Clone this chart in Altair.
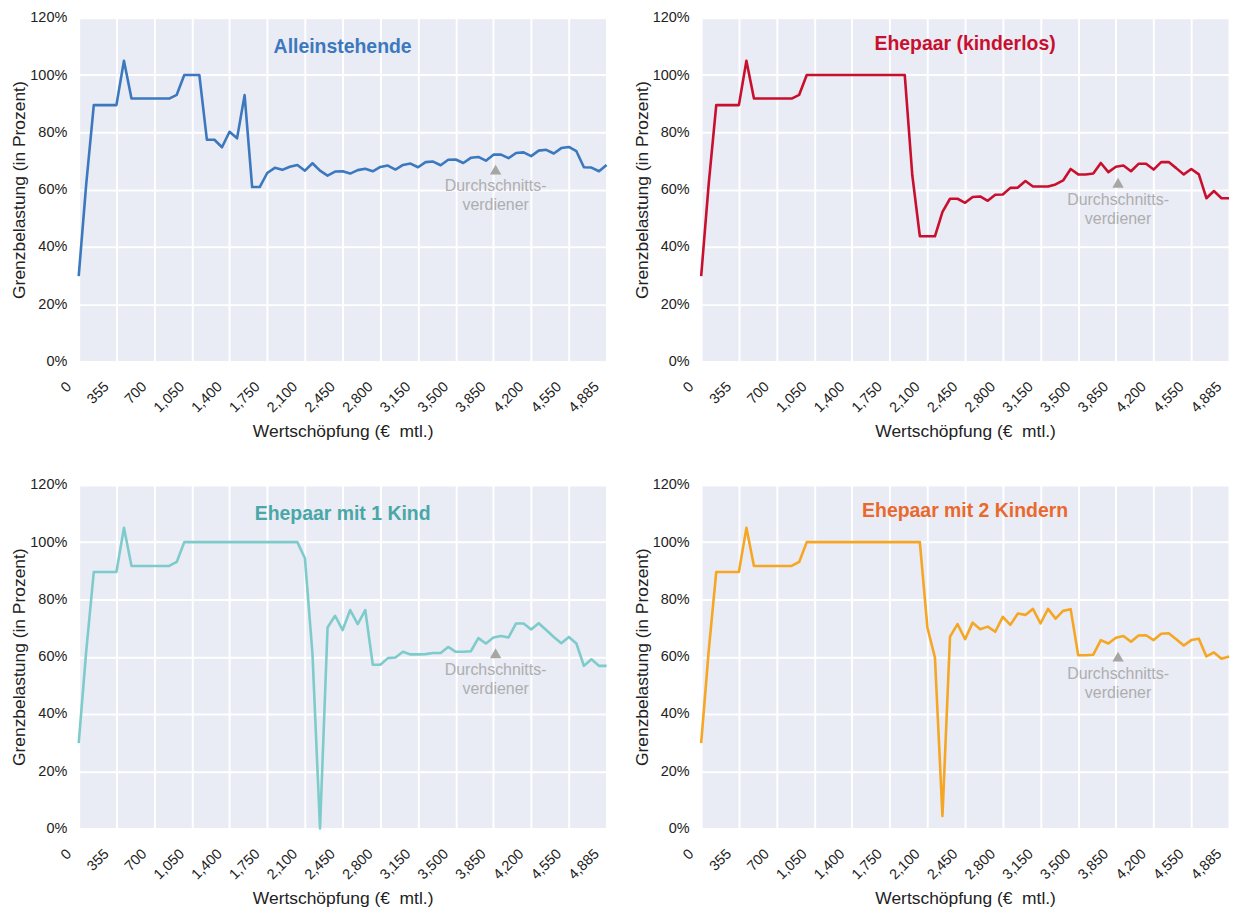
import json
import altair as alt
import pandas as pd

# ---------------- data ----------------
x_step = 70  # € per sample point (axis position)
tick_values = [0, 350, 700, 1050, 1400, 1750, 2100, 2450, 2800, 3150, 3500, 3850, 4200, 4550, 4900]
tick_labels = ["0", "355", "700", "1,050", "1,400", "1,750", "2,100", "2,450", "2,800",
               "3,150", "3,500", "3,850", "4,200", "4,550", "4,885"]
y_ticks = [0, 20, 40, 60, 80, 100, 120]

alleinstehende = [29.8, 62, 89.5, 89.5, 89.5, 89.5, 105, 91.8, 91.8, 91.8, 91.8, 91.8, 91.8, 93.1,
                  100, 100, 100, 77.4, 77.4, 74.8, 80.2, 77.9, 93, 60.9, 60.9, 65.8, 67.6, 66.9,
                  68, 68.6, 66.6, 69.2, 66.6, 64.9, 66.3, 66.4, 65.6, 66.8, 67.3, 66.4, 67.9, 68.4,
                  67, 68.6, 69.1, 67.8, 69.6, 69.8, 68.5, 70.4, 70.5, 69.3, 71.1, 71.4, 70.1, 72.2,
                  72.2, 71, 72.8, 73, 71.7, 73.6, 73.9, 72.6, 74.5, 74.9, 73.4, 67.8, 67.7, 66.4, 68.6]

kinderlos = [29.8, 62, 89.5, 89.5, 89.5, 89.5, 105, 91.8, 91.8, 91.8, 91.8, 91.8, 91.8, 93.1,
             100, 100, 100, 100, 100, 100, 100, 100, 100, 100, 100, 100, 100, 100, 65, 43.7,
             43.7, 43.7, 52.2, 56.8, 56.8, 55.4, 57.4, 57.6, 56.1, 58.2, 58.3, 60.6, 60.7, 63,
             61.1, 61.1, 61.1, 61.8, 63.2, 67.2, 65.3, 65.3, 65.6, 69.3, 66.1, 68, 68.4, 66.4,
             69, 69, 67, 69.6, 69.6, 67.5, 65.3, 67.2, 65.3, 57, 59.5, 57, 57]

ein_kind = [29.8, 62, 89.6, 89.6, 89.6, 89.6, 105, 91.7, 91.7, 91.7, 91.7, 91.7, 91.7, 93.1,
            100, 100, 100, 100, 100, 100, 100, 100, 100, 100, 100, 100, 100, 100, 100, 100,
            94.4, 61, 0, 70.2, 74.3, 69.3, 76.3, 71.4, 76.3, 57.2, 57.2, 59.5, 59.7, 61.7,
            60.8, 60.8, 60.9, 61.3, 61.3, 63.4, 61.7, 61.7, 61.9, 66.5, 64.6, 66.7, 67.2, 66.7,
            71.6, 71.6, 69.5, 71.7, 69.3, 66.9, 64.7, 66.9, 64.6, 56.8, 59.1, 56.8, 56.8]

zwei_kinder = [29.8, 62, 89.6, 89.6, 89.6, 89.6, 105, 91.7, 91.7, 91.7, 91.7, 91.7, 91.7, 93.1,
               100, 100, 100, 100, 100, 100, 100, 100, 100, 100, 100, 100, 100, 100, 100, 100,
               70.2, 59.7, 4.4, 67, 71.4, 66.1, 71.9, 69.6, 70.5, 68.7, 73.9, 71.1, 75.1, 74.6,
               76.7, 71.6, 76.7, 73.3, 76, 76.6, 60.5, 60.5, 60.7, 65.8, 64.6, 66.6, 67.2, 65.2,
               67.4, 67.5, 65.8, 68, 68.2, 66.1, 63.9, 65.8, 66.3, 60.1, 61.5, 59.3, 60.1]

panel_titles = ["Alleinstehende", "Ehepaar (kinderlos)", "Ehepaar mit 1 Kind", "Ehepaar mit 2 Kindern"]
line_colors = ["#3b78bd", "#c8102e", "#7ecbcb", "#f5a623"]
title_colors = ["#3b78bd", "#c8102e", "#4aa7a7", "#e9692c"]
avg_earner_x = 3870
avg_marker_y = [67, 62.4, 61.2, 60]
avg_label = "Durchschnitts-\nverdiener"

# ---------------- style ----------------
FONT = "Liberation Sans, Arial, sans-serif"
BG = "#e9ebf5"
label_expr_x = json.dumps(tick_labels) + "[round(datum.value / 350)]"
title_offsets = [-57, -54, -57, -54]

x_axis = alt.Axis(values=tick_values, labelExpr=label_expr_x, labelAngle=-45,
                  labelAlign="right", labelBaseline="middle", labelOffset=-10,
                  labelPadding=23, ticks=False, tickSize=0, domain=False,
                  grid=True, gridColor="white", gridWidth=2, labelFont=FONT,
                  labelFontSize=14.5, labelColor="#222", titleFont=FONT,
                  titleFontSize=17.5, titleFontWeight="normal", titleColor="#222",
                  titlePadding=8.5, labelOverlap=False)
y_axis = alt.Axis(values=y_ticks, labelExpr="datum.value + '%'", ticks=False, tickSize=0,
                  domain=False, grid=True, gridColor="white", gridWidth=2,
                  labelFont=FONT, labelFontSize=14.5, labelColor="#222", labelPadding=12,
                  titleFont=FONT, titleFontSize=17.5, titleFontWeight="normal",
                  titleColor="#222", titlePadding=1)


def panel(values, k):
    df = pd.DataFrame({"x": [i * x_step for i in range(len(values))], "y": values})
    ann = pd.DataFrame({"x": [avg_earner_x], "y": [avg_marker_y[k]], "t": [avg_label]})
    xs = alt.Scale(domain=[0, 4900], nice=False, zero=False)
    ys = alt.Scale(domain=[0, 120], nice=False)
    line = alt.Chart(df).mark_line(color=line_colors[k], strokeWidth=2.6, strokeJoin="round")
    tri = alt.Chart(ann).mark_point(shape="triangle-up", filled=True, size=130,
                                    color="#a8a6a3", opacity=1)
    txt = alt.Chart(ann).mark_text(font=FONT, fontSize=16, color="#aeaeae", baseline="top",
                                   align="center", dy=9, lineBreak="\n",
                                   lineHeight=19).encode(text="t:N")
    return alt.layer(line, tri, txt).encode(
        x=alt.X("x:Q", scale=xs, axis=x_axis, title="Wertschöpfung (€\u00a0 mtl.)"),
        y=alt.Y("y:Q", scale=ys, axis=y_axis, title="Grenzbelastung (in Prozent)"),
    ).properties(
        width=530, height=345,
        title=alt.TitleParams(text=panel_titles[k], color=title_colors[k], font=FONT,
                              fontSize=19.5, fontWeight="bold", anchor="middle",
                              frame="group", baseline="middle", offset=title_offsets[k]),
    )


top = alt.hconcat(panel(alleinstehende, 0), panel(kinderlos, 1), spacing=24)
bottom = alt.hconcat(panel(ein_kind, 2), panel(zwei_kinder, 3), spacing=24)
chart = alt.vconcat(top, bottom, spacing=36, background="white",
                    padding={"left": 2, "top": 0, "right": 2, "bottom": 0}).configure_view(
    fill=BG, strokeWidth=0)

chart.save("out.html", embed_options={"renderer": "svg", "actions": False})
